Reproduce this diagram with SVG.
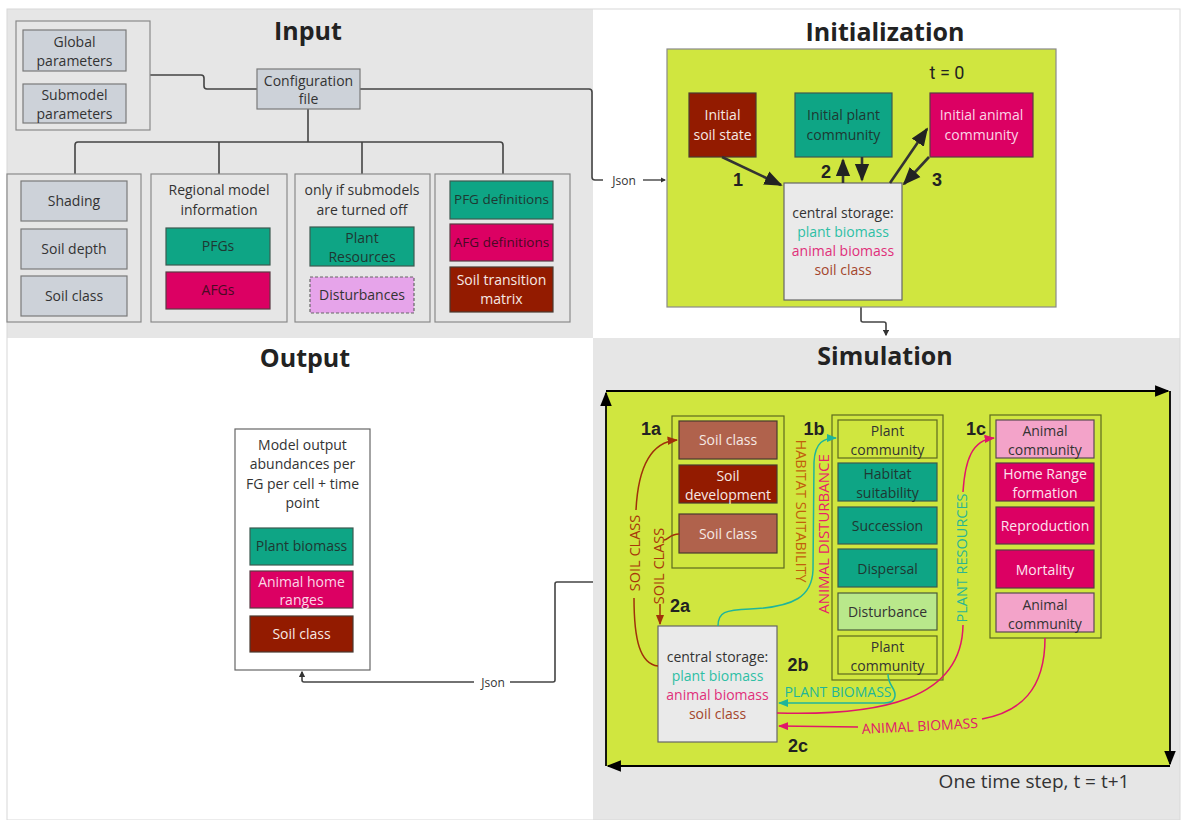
<svg xmlns="http://www.w3.org/2000/svg" width="1191" height="820" viewBox="0 0 1191 820">
<style>
text{font-family:"Open Sans","Liberation Sans",sans-serif;font-size:14px;fill:#333;text-anchor:middle}
.title{font-size:25px;font-weight:bold;fill:#222}
.num{font-family:"Liberation Sans",Arial,sans-serif;font-size:18px;font-weight:bold;fill:#222}
.grp{fill:#e6e6e6;stroke:#8a8a8a;stroke-width:1.2}
.gbox{fill:#cdd2d9;stroke:#7a7a7a;stroke-width:1.2}
.teal{fill:#0ea585;stroke:#3c5a50;stroke-width:1.2}
.mag{fill:#dc0063;stroke:#5a3a44;stroke-width:1.2}
.red{fill:#931b00;stroke:#4a3a30;stroke-width:1.2}
.brown{fill:#b0624c;stroke:#4a3a30;stroke-width:1.2}
.pink{fill:#f3a3c9;stroke:#5a4a50;stroke-width:1.2}
.lgreen{fill:#b9e88b;stroke:#4a5a3a;stroke-width:1.2}
.limebox{fill:#d0e63f;stroke:#5e6a1e;stroke-width:1.2}
.lime{fill:#d0e63f}
.store{fill:#eaeaea;stroke:#666;stroke-width:1.2}
.wt{fill:#f6e9e4}
.dk{fill:#1e3832}
.conn{fill:none;stroke:#444;stroke-width:1.6}
.thick{fill:none;stroke:#333;stroke-width:2.6}
.vlab{font-size:14.5px}
</style>
<defs>
<marker id="ah" viewBox="0 0 10 10" refX="8" refY="5" markerWidth="4" markerHeight="4" orient="auto"><path d="M0,0 L10,5 L0,10 z" fill="#333"/></marker>
<marker id="ahs" viewBox="0 0 10 10" refX="9" refY="5" markerWidth="7" markerHeight="7" orient="auto"><path d="M0,1 L10,5 L0,9 z" fill="#222"/></marker>
<marker id="ahb" viewBox="0 0 10 10" refX="9" refY="5" markerWidth="8" markerHeight="8" orient="auto"><path d="M0,1 L10,5 L0,9 z" fill="#000"/></marker>
<marker id="ahr" viewBox="0 0 10 10" refX="9" refY="5" markerWidth="7" markerHeight="7" orient="auto"><path d="M0,1 L10,5 L0,9 z" fill="#a0300a"/></marker>
<marker id="aht" viewBox="0 0 10 10" refX="9" refY="5" markerWidth="7" markerHeight="7" orient="auto"><path d="M0,1 L10,5 L0,9 z" fill="#1fb59a"/></marker>
<marker id="ahm" viewBox="0 0 10 10" refX="9" refY="5" markerWidth="7" markerHeight="7" orient="auto"><path d="M0,1 L10,5 L0,9 z" fill="#e0176a"/></marker>
</defs>

<!-- section backgrounds -->
<g id="sections">
<rect x="7" y="9" width="586" height="329" fill="#e6e6e6"/>
<rect x="593" y="9" width="587" height="329" fill="#fff"/>
<rect x="7" y="338" width="586" height="482" fill="#fff"/>
<rect x="593" y="338" width="587" height="482" fill="#e6e6e6"/>
<rect x="7" y="9" width="1173" height="811" fill="none" stroke="#d8d8d8" stroke-width="1"/>
<text class="title" x="308" y="40">Input</text>
<text class="title" x="885" y="41">Initialization</text>
<text class="title" x="305" y="367">Output</text>
<text class="title" x="885" y="365">Simulation</text>
</g>

<!-- connectors -->
<g id="connectors">
<path class="conn" d="M150,75 H201 Q204,75 204,78 V86 Q204,89 207,89 H257"/>
<path class="conn" d="M360,89 H589 Q592,89 592,92 V177 Q592,180 595,180 H603"/>
<text x="624" y="185" style="font-size:12px">Json</text>
<path class="conn" d="M643,180 H665" marker-end="url(#ah)" style="stroke-width:1.4"/>
<path class="conn" d="M308,109 V142"/>
<path class="conn" d="M75,174 V145 Q75,142 78,142 H500 Q503,142 503,145 V174"/>
<path class="conn" d="M219,142 V174"/>
<path class="conn" d="M362,142 V174"/>
<path class="conn" d="M861,307 V320 Q861,322 863,322 H884 Q886,322 886,324 V335" marker-end="url(#ah)"/>
<path class="conn" d="M593,582 H557 Q555,582 555,584 V680 Q555,682 553,682 H510"/>
<text x="493" y="687" style="font-size:12px">Json</text>
<path class="conn" d="M474,682 H304 Q302,682 302,680 V672" marker-end="url(#ah)"/>
</g>

<!-- Input -->
<g id="input-params">
<rect class="grp" x="16" y="21" width="134" height="109"/>
<rect class="gbox" x="23" y="30" width="103" height="41"/>
<text x="74.5" y="47">Global</text><text x="74.5" y="66">parameters</text>
<rect class="gbox" x="23" y="84" width="103" height="39"/>
<text x="74.5" y="100">Submodel</text><text x="74.5" y="119">parameters</text>
</g>
<g id="config-file">
<rect class="gbox" x="257" y="69" width="103" height="40"/>
<text x="308.5" y="86">Configuration</text><text x="308.5" y="104">file</text>
</g>
<g id="input-box1">
<rect class="grp" x="7" y="174" width="134" height="148"/>
<rect class="gbox" x="21" y="181" width="106" height="40"/><text x="74" y="206">Shading</text>
<rect class="gbox" x="21" y="229" width="106" height="40"/><text x="74" y="254">Soil depth</text>
<rect class="gbox" x="21" y="276" width="106" height="40"/><text x="74" y="301">Soil class</text>
</g>
<g id="input-box2">
<rect class="grp" x="151" y="174" width="136" height="148"/>
<text x="219" y="195">Regional model</text><text x="219" y="215">information</text>
<rect class="teal" x="166" y="228" width="104" height="37"/><text class="dk" x="218" y="251">PFGs</text>
<rect class="mag" x="166" y="272" width="104" height="37"/><text x="218" y="295" style="fill:#4a0a24">AFGs</text>
</g>
<g id="input-box3">
<rect class="grp" x="295" y="174" width="135" height="148"/>
<text x="362" y="195">only if submodels</text><text x="362" y="215">are turned off</text>
<rect class="teal" x="310" y="227" width="104" height="39"/><text class="dk" x="362" y="243">Plant</text><text class="dk" x="362" y="262">Resources</text>
<rect x="310" y="277" width="104" height="36" fill="#e6a4ea" stroke="#666" stroke-width="1.2" stroke-dasharray="3,2"/><text x="362" y="300">Disturbances</text>
</g>
<g id="input-box4">
<rect class="grp" x="435" y="174" width="135" height="148"/>
<rect class="teal" x="450" y="181" width="103" height="38"/><text class="dk" x="501.5" y="204" style="font-size:13.5px">PFG definitions</text>
<rect class="mag" x="450" y="224" width="103" height="37"/><text x="501.5" y="247" style="fill:#4a0a24;font-size:13.5px">AFG definitions</text>
<rect class="red" x="450" y="267" width="103" height="45"/><text class="wt" x="501.5" y="285">Soil transition</text><text class="wt" x="501.5" y="304">matrix</text>
</g>

<!-- Initialization -->
<g id="init-panel">
<rect x="667" y="49" width="389" height="258" fill="#d0e63f" stroke="#8a8a8a" stroke-width="1.2"/>
<text x="947" y="79" style="font-family:Roboto,'Liberation Sans',sans-serif;font-size:18px;fill:#222">t = 0</text>
</g>
<g id="init-soil">
<rect class="red" x="689" y="93" width="67" height="64"/>
<text class="wt" x="722.5" y="120">Initial</text><text class="wt" x="722.5" y="140">soil state</text>
</g>
<g id="init-plant">
<rect class="teal" x="795" y="93" width="97" height="64"/>
<text class="dk" x="843.5" y="120">Initial plant</text><text class="dk" x="843.5" y="140">community</text>
</g>
<g id="init-animal">
<rect class="mag" x="930" y="93" width="103" height="64"/>
<text x="981.5" y="120" style="fill:#fbd6e6">Initial animal</text><text x="981.5" y="140" style="fill:#fbd6e6">community</text>
</g>
<g id="init-storage">
<rect class="store" x="784" y="183" width="118" height="117"/>
<text x="843" y="218">central storage:</text>
<text x="843" y="237" style="fill:#2ebfa5">plant biomass</text>
<text x="843" y="256" style="fill:#e0307a">animal biomass</text>
<text x="843" y="275" style="fill:#a4462c">soil class</text>
</g>
<g id="init-arrows">
<path class="thick" d="M722,157 L781,185" marker-end="url(#ahs)"/>
<path class="thick" d="M843,183 V160" marker-end="url(#ahs)"/>
<path class="thick" d="M862,157 V180" marker-end="url(#ahs)"/>
<path class="thick" d="M890,183 L927,129" marker-end="url(#ahs)"/>
<path class="thick" d="M929,157 L904,184" marker-end="url(#ahs)"/>
<text class="num" x="738" y="186">1</text>
<text class="num" x="826" y="178">2</text>
<text class="num" x="937" y="186">3</text>
</g>

<!-- Output -->
<g id="output-box">
<rect x="235" y="429" width="135" height="241" fill="#fff" stroke="#666" stroke-width="1.2"/>
<text x="302.5" y="450">Model output</text>
<text x="302.5" y="469">abundances per</text>
<text x="302.5" y="489">FG per cell + time</text>
<text x="302.5" y="508">point</text>
<rect class="teal" x="250" y="528" width="103" height="37"/><text class="dk" x="301.5" y="551">Plant biomass</text>
<rect class="mag" x="250" y="571" width="103" height="37"/><text x="301.5" y="587" style="fill:#fbd6e6">Animal home</text><text x="301.5" y="605" style="fill:#fbd6e6">ranges</text>
<rect class="red" x="250" y="616" width="103" height="36"/><text class="wt" x="301.5" y="639">Soil class</text>
</g>

<!-- Simulation -->
<g id="sim-panel">
<rect class="lime" x="606" y="391" width="564" height="375"/>
<path d="M606,391 H1168" stroke="#000" stroke-width="1.8" fill="none" marker-end="url(#ahb)"/>
<path d="M1170,391 V764" stroke="#000" stroke-width="1.8" fill="none" marker-end="url(#ahb)"/>
<path d="M1170,766 H608" stroke="#000" stroke-width="1.8" fill="none" marker-end="url(#ahb)"/>
<path d="M606,766 V393" stroke="#000" stroke-width="1.8" fill="none" marker-end="url(#ahb)"/>
<text x="1034" y="788" style="font-size:19px;fill:#333">One time step, t = t+1</text>
</g>
<g id="sim-1a">
<rect class="limebox" x="672" y="416" width="112" height="152"/>
<rect class="brown" x="679" y="421" width="98" height="38"/><text class="wt" x="728" y="445">Soil class</text>
<rect class="red" x="679" y="465" width="98" height="38"/><text class="wt" x="728" y="481">Soil</text><text class="wt" x="728" y="500">development</text>
<rect class="brown" x="679" y="514" width="98" height="39"/><text class="wt" x="728" y="539">Soil class</text>
<text class="num" x="651" y="435">1a</text>
</g>
<g id="sim-1b">
<rect class="limebox" x="832" y="415" width="111" height="265"/>
<rect class="limebox" x="838" y="420" width="99" height="38"/><text x="887.5" y="436">Plant</text><text x="887.5" y="455">community</text>
<rect class="teal" x="838" y="463" width="99" height="38"/><text class="dk" x="887.5" y="479">Habitat</text><text class="dk" x="887.5" y="498">suitability</text>
<rect class="teal" x="838" y="507" width="99" height="37"/><text class="dk" x="887.5" y="531">Succession</text>
<rect class="teal" x="838" y="549" width="99" height="38"/><text class="dk" x="887.5" y="574">Dispersal</text>
<rect class="lgreen" x="838" y="593" width="99" height="37"/><text x="887.5" y="617">Disturbance</text>
<rect class="limebox" x="838" y="636" width="99" height="38"/><text x="887.5" y="652">Plant</text><text x="887.5" y="671">community</text>
<text class="num" x="814" y="435">1b</text>
</g>
<g id="sim-1c">
<rect class="limebox" x="990" y="415" width="111" height="223"/>
<rect class="pink" x="996" y="420" width="98" height="38"/><text x="1045" y="436">Animal</text><text x="1045" y="455">community</text>
<rect class="mag" x="996" y="463" width="98" height="38"/><text x="1045" y="479" style="fill:#fde4ef">Home Range</text><text x="1045" y="498" style="fill:#fde4ef">formation</text>
<rect class="mag" x="996" y="507" width="98" height="37"/><text x="1045" y="531" style="fill:#fde4ef">Reproduction</text>
<rect class="mag" x="996" y="550" width="98" height="38"/><text x="1045" y="575" style="fill:#fde4ef">Mortality</text>
<rect class="pink" x="996" y="593" width="98" height="39"/><text x="1045" y="610">Animal</text><text x="1045" y="629">community</text>
<text class="num" x="976" y="435">1c</text>
</g>
<g id="sim-storage">
<rect class="store" x="658" y="626" width="119" height="116"/>
<text x="717.5" y="662">central storage:</text>
<text x="717.5" y="681" style="fill:#2ebfa5">plant biomass</text>
<text x="717.5" y="700" style="fill:#e0307a">animal biomass</text>
<text x="717.5" y="719" style="fill:#a4462c">soil class</text>
<text class="num" x="680" y="612">2a</text>
<text class="num" x="798" y="671">2b</text>
<text class="num" x="798" y="752">2c</text>
</g>
<g id="sim-connectors">
<path d="M658,666 C640,664 634,640 634,598" fill="none" stroke="#a0300a" stroke-width="1.5"/>
<path d="M636,510 C638,470 650,442 677,440" fill="none" stroke="#a0300a" stroke-width="1.5" marker-end="url(#ahr)"/>
<text class="vlab" transform="translate(640,553) rotate(-90)" style="fill:#a8380a">SOIL CLASS</text>
<path d="M679,534 C670,534 668,540 664,540" fill="none" stroke="#a0300a" stroke-width="1.5"/>
<text class="vlab" transform="translate(664,566) rotate(-90)" style="fill:#a8380a">SOIL CLASS</text>
<path d="M660,604 V624" fill="none" stroke="#a0300a" stroke-width="1.5" marker-end="url(#ahr)"/>
<text class="vlab" transform="translate(796,511) rotate(90)" style="fill:#c0600c">HABITAT SUITABILITY</text>
<path d="M718,626 C718,612 725,610 750,609 C795,607 812,596 813,570 L814,462 C815,442 824,438 836,438" fill="none" stroke="#1fb59a" stroke-width="1.5" marker-end="url(#aht)"/>
<text transform="translate(829,534) rotate(-90)" style="fill:#e8206a;font-size:15px">ANIMAL DISTURBANCE</text>
<path d="M888,674 C888,686 896,688 895,696 C894,702 890,703 884,703 L779,703" fill="none" stroke="#1fb59a" stroke-width="1.5" marker-end="url(#aht)"/>
<text x="838" y="697" style="fill:#1fb59a;font-size:14px">PLANT BIOMASS</text>
<path d="M777,713 C880,716 962,700 963,625" fill="none" stroke="#e0176a" stroke-width="1.5"/>
<text class="vlab" transform="translate(967,558) rotate(-90)" style="fill:#2bb592">PLANT RESOURCES</text>
<path d="M963,492 C965,460 972,440 994,438" fill="none" stroke="#e0176a" stroke-width="1.5" marker-end="url(#ahm)"/>
<path d="M1045,638 C1045,690 1020,712 982,719" fill="none" stroke="#e0176a" stroke-width="1.5"/>
<text transform="translate(920,731) rotate(-3)" style="fill:#e0176a;font-size:14px">ANIMAL BIOMASS</text>
<path d="M858,727 L779,726" fill="none" stroke="#e0176a" stroke-width="1.5" marker-end="url(#ahm)"/>
</g>
</svg>
